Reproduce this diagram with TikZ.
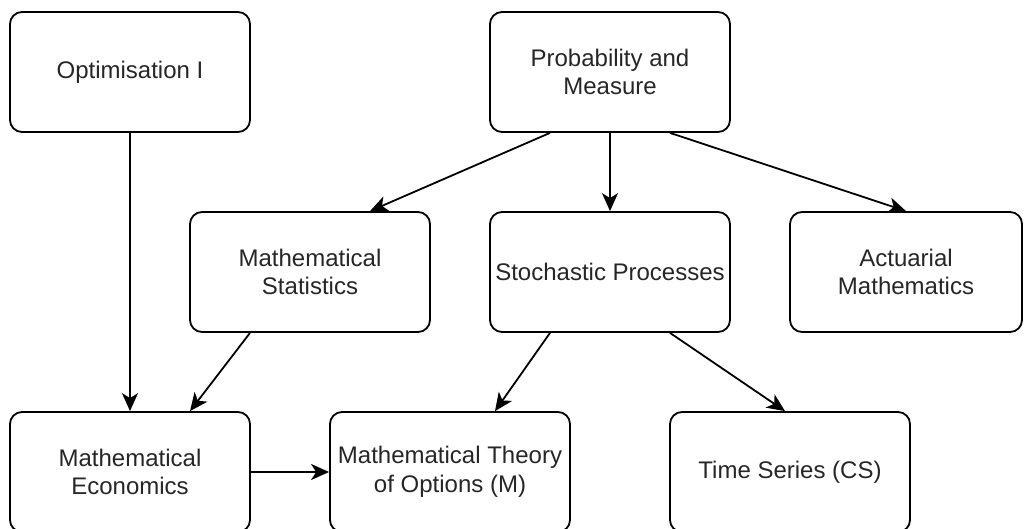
\documentclass[tikz,border=0pt]{standalone}
\usepackage{fontspec}
\setmainfont{Liberation Sans}
\usetikzlibrary{arrows.meta}
\begin{document}
\begin{tikzpicture}[x=1pt,y=-1pt,
  course/.style={draw=black, line width=1.8pt, rounded corners=12pt,
    minimum width=240pt, minimum height=120pt, align=center,
    inner sep=0pt, text=black!85,
    font=\fontsize{24}{28.8}\selectfont},
  link/.style={draw=black, line width=1.8pt,
    -{Stealth[length=18pt,width=16pt,inset=5pt]}}]
\useasboundingbox (0,0) rectangle (1024,529);
% top row
\node[course] (opt) at (130,72) {Optimisation I};
\node[course] (pm) at (610,72) {Probability and\\Measure};
% middle row
\node[course] (ms) at (310,272) {Mathematical\\Statistics};
\node[course] (sp) at (610,272) {Stochastic Processes};
\node[course, minimum width=232pt] (am) at (906,272) {Actuarial\\Mathematics};
% bottom row
\node[course] (me) at (130,472) {Mathematical\\Economics};
\node[course] (mto) at (450,472) {Mathematical Theory\\of Options (M)};
\node[course] (ts) at (790,472) {Time Series (CS)};
% prerequisites
\draw[link] (opt.south) -- (me.north);
\draw[link] ([xshift=-60pt]pm.south) -- ([xshift=60pt]ms.north);
\draw[link] (pm.south) -- (sp.north);
\draw[link] ([xshift=60pt]pm.south) -- (am.north);
\draw[link] ([xshift=-60pt]ms.south) -- ([xshift=60pt]me.north);
\draw[link] ([xshift=-60pt]sp.south) -- ([xshift=45pt]mto.north);
\draw[link] ([xshift=60pt]sp.south) -- ([xshift=-5pt]ts.north);
\draw[link] (me.east) -- (mto.west);
\end{tikzpicture}
\end{document}
